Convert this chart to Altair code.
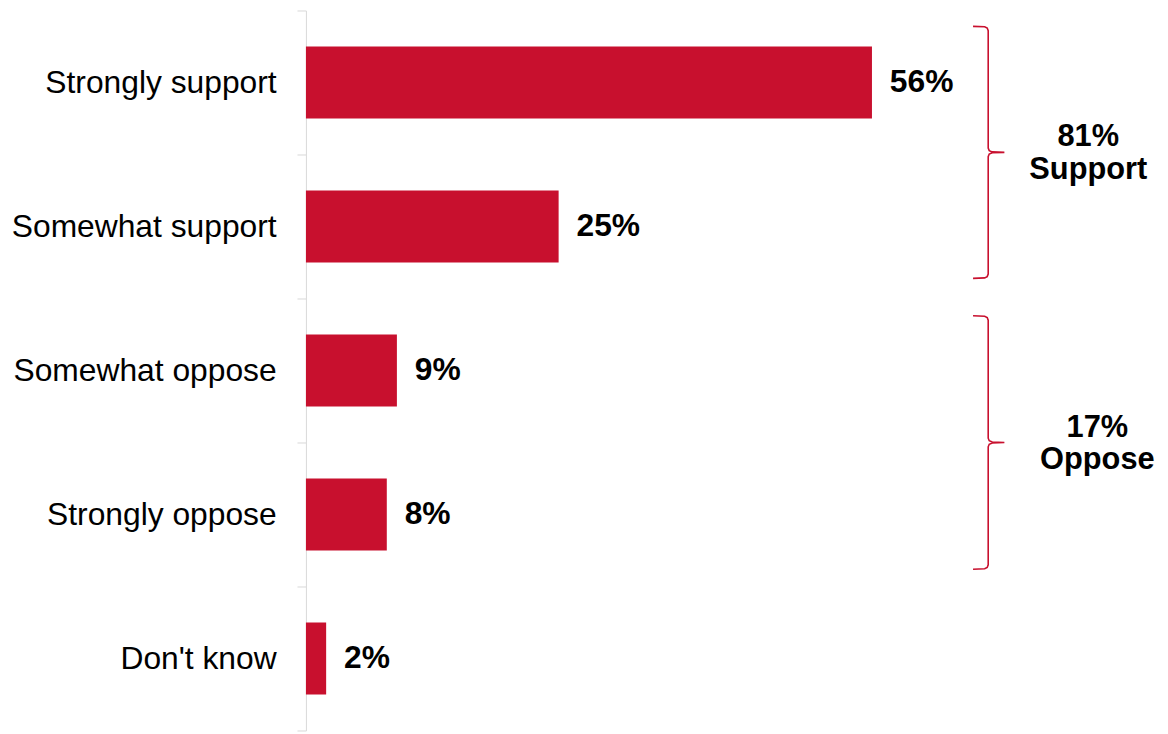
import altair as alt
import pandas as pd

# ---- data ----
categories = ["Strongly support", "Somewhat support", "Somewhat oppose", "Strongly oppose", "Don't know"]
values = [56, 25, 9, 8, 2]
value_labels = ["56%", "25%", "9%", "8%", "2%"]

group_labels = ["81%\nSupport", "17%\nOppose"]
group_top = [0.11, 2.12]      # in category-band units
group_bottom = [1.86, 3.88]
group_label_x = [77.4, 78.3]  # in percent units

bracket_x = 67.5
bracket_hook_x = 66.0
bracket_tip_x = 69.1

RED = "#C8102E"
FONT = "Liberation Sans"

bars_df = pd.DataFrame({"cat": categories, "val": values, "lab": value_labels})

rows = []
for gi, (t, b) in enumerate(zip(group_top, group_bottom)):
    m = (t + b) / 2
    pts = [
        (bracket_hook_x, t),
        (bracket_x - 0.35, t + 0.003),
        (bracket_x - 0.1, t + 0.012),
        (bracket_x, t + 0.03),
        (bracket_x, m - 0.03),
        (bracket_x + 0.1, m - 0.012),
        (bracket_x + 0.4, m - 0.003),
        (bracket_tip_x, m),
        (bracket_x + 0.4, m + 0.003),
        (bracket_x + 0.1, m + 0.012),
        (bracket_x, m + 0.03),
        (bracket_x, b - 0.03),
        (bracket_x - 0.1, b - 0.012),
        (bracket_x - 0.35, b - 0.003),
        (bracket_hook_x, b),
    ]
    for i, (x, y) in enumerate(pts):
        rows.append({"g": gi, "o": i, "x": x, "y": y})
bracket_df = pd.DataFrame(rows)

glab_df = pd.DataFrame({
    "lab": group_labels,
    "x": group_label_x,
    "y": [(t + b) / 2 for t, b in zip(group_top, group_bottom)],
})

xscale = alt.Scale(domain=[0, 84.3], nice=False, zero=True)

y_nom = alt.Y(
    "cat:N",
    sort=categories,
    scale=alt.Scale(paddingInner=0, paddingOuter=0),
    axis=alt.Axis(
        title=None,
        labelFontSize=32,
        labelFont=FONT,
        labelColor="#000000",
        labelPadding=21,
        tickSize=9,
        tickColor="#d9d9d9",
        domainColor="#d9d9d9",
        tickBand="extent",
        labelLimit=400,
    ),
)

bars = alt.Chart(bars_df).mark_bar(color=RED, height={"band": 0.5}).encode(
    x=alt.X("val:Q", scale=xscale, axis=None),
    y=y_nom,
)

texts = alt.Chart(bars_df).mark_text(
    align="left", baseline="middle", dx=18, fontSize=32, fontWeight="bold", font=FONT, color="#000000"
).encode(
    x=alt.X("val:Q", scale=xscale, axis=None),
    y=y_nom,
    text="lab:N",
)

yq = alt.Scale(domain=[0, 5], reverse=True, nice=False, zero=False)

brackets = alt.Chart(bracket_df).mark_line(color=RED, strokeWidth=1.6).encode(
    x=alt.X("x:Q", scale=xscale, axis=None),
    y=alt.Y("y:Q", scale=yq, axis=None),
    detail="g:N",
    order="o:Q",
)

glabels = alt.Chart(glab_df).mark_text(
    align="center", baseline="middle", fontSize=31, fontWeight="bold", font=FONT,
    color="#000000", lineBreak="\n", lineHeight=33, dy=-15,
).encode(
    x=alt.X("x:Q", scale=xscale, axis=None),
    y=alt.Y("y:Q", scale=yq, axis=None),
    text="lab:N",
)

chart = alt.layer(
    alt.layer(bars, texts),
    alt.layer(brackets, glabels),
).resolve_scale(y="independent").properties(
    width=858,
    height=725,
    autosize=alt.AutoSizeParams(type="none"),
    padding={"left": 300, "top": 0, "right": 2, "bottom": 0},
).configure_view(stroke=None)

chart.save("out.html", embed_options={"renderer": "svg", "actions": False})
